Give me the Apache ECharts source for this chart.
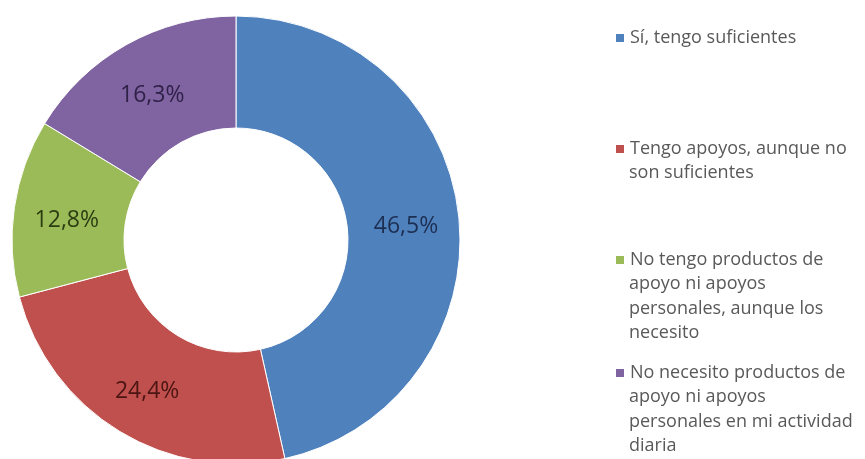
<!DOCTYPE html>
<html>
<head>
<meta charset="utf-8">
<script src="https://cdn.jsdelivr.net/npm/echarts@6/dist/echarts.min.js"></script>
<style>html,body{margin:0;padding:0;background:#fff}#c{width:865px;height:459px}</style>
</head>
<body>
<div id="c"></div>
<script>
const categories = [
  "Sí, tengo suficientes",
  "Tengo apoyos, aunque no son suficientes",
  "No tengo productos de apoyo ni apoyos personales, aunque los necesito",
  "No necesito productos de apoyo ni apoyos personales en mi actividad diaria"
];
const legendLines = [
  ["Sí, tengo suficientes"],
  ["Tengo apoyos, aunque no", "son suficientes"],
  ["No tengo productos de", "apoyo ni apoyos", "personales, aunque los", "necesito"],
  ["No necesito productos de", "apoyo ni apoyos", "personales en mi actividad", "diaria"]
];
const values = [46.5, 24.4, 12.8, 16.3];
const colors = ["#4F81BD", "#C0504D", "#9BBB59", "#8064A2"];
const labelColors = ["#1c2f52", "#4a1513", "#2d3d12", "#2f2148"];

// layout (pixel positions of legend blocks; first-line centres)
const legendLineCentres = [38, 149, 260, 373];
const LH = 24.3;
const FONT = 'Open Sans';
const LEG_FS = 18;
const LEG_COLOR = '#595959';

const chart = echarts.init(document.getElementById('c'), null, {renderer: 'canvas'});
const legends = categories.map((name, i) => ({
  orient: 'vertical',
  left: 614,
  top: legendLineCentres[i] - LH / 2,
  padding: 0,
  data: [name],
  icon: 'rect',
  itemWidth: 10,
  itemHeight: 10,
  selectedMode: false,
  formatter: () => legendLines[i][0],
  textStyle: {fontFamily: FONT, fontSize: LEG_FS, color: LEG_COLOR, lineHeight: LH}
}));
const graphics = [];
legendLines.forEach((lines, i) => {
  if (lines.length > 1) {
    graphics.push({
      type: 'text',
      left: 629,
      top: legendLineCentres[i] + LH / 2,
      silent: true,
      style: {
        text: lines.slice(1).join('\n'),
        font: LEG_FS + 'px "' + FONT + '"',
        fill: LEG_COLOR,
        lineHeight: LH
      }
    });
  }
});
chart.setOption({
  animation: false,
  color: colors,
  legend: legends,
  graphic: graphics,
  series: [{
    type: 'pie',
    center: [236, 240],
    radius: [112, 224],
    startAngle: 90,
    clockwise: true,
    avoidLabelOverlap: false,
    itemStyle: {borderColor: '#fff', borderWidth: 1},
    label: {
      show: true,
      position: 'inside',
      fontFamily: FONT,
      fontSize: 23,
      offset: [0, 5],
      formatter: p => p.value.toFixed(1).replace('.', ',') + '%'
    },
    labelLine: {show: false},
    data: categories.map((name, i) => ({
      name, value: values[i],
      label: {color: labelColors[i]}
    }))
  }]
});
</script>
</body>
</html>
